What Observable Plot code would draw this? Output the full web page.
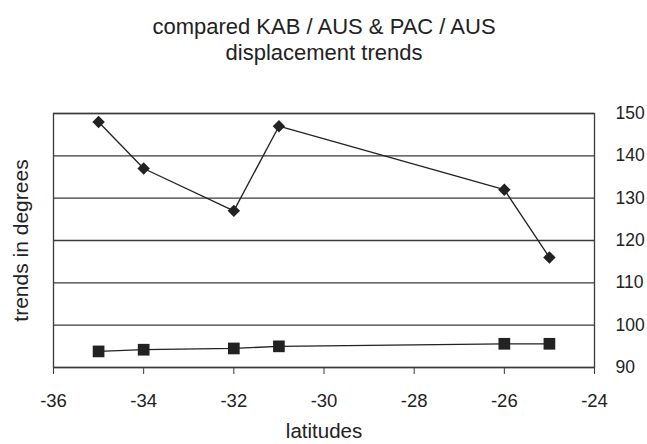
<!DOCTYPE html>
<html>
<head>
<meta charset="utf-8">
<script src="https://cdn.jsdelivr.net/npm/d3@7"></script>
<script src="https://cdn.jsdelivr.net/npm/@observablehq/plot@0.6"></script>
<style>
  html, body { margin: 0; padding: 0; background: #fff; }
  #chart svg { display: block; }
</style>
</head>
<body>
<div id="chart"></div>
<script>
// Data
const latitudes = [-35, -34, -32, -31, -26, -25];
const trendDiamond = [148, 137, 127, 147, 132, 116];
const trendSquare = [93.8, 94.2, 94.5, 95.0, 95.6, 95.6];
const xTicks = [-36, -34, -32, -30, -28, -26, -24];
const yTicks = [90, 100, 110, 120, 130, 140, 150];
const titleLines = ["compared KAB / AUS & PAC / AUS", "displacement trends"];
const xLabel = "latitudes";
const yLabel = "trends in degrees";

const seriesA = latitudes.map((lat, i) => ({lat, value: trendDiamond[i]}));
const seriesB = latitudes.map((lat, i) => ({lat, value: trendSquare[i]}));

const ink = "#222";
const gridInk = "#3a3a3a";
const fam = "'Liberation Sans', Arial, sans-serif";

const chart = Plot.plot({
  width: 647,
  height: 444,
  marginTop: 113,
  marginBottom: 77,
  marginLeft: 53,
  marginRight: 53,
  style: {fontFamily: fam, fontSize: "18px", color: ink, background: "#fff"},
  x: {domain: [-36, -24]},
  y: {domain: [90, 150]},
  marks: [
    Plot.gridY(yTicks, {stroke: gridInk, strokeOpacity: 1, strokeWidth: 1.3}),
    Plot.frame({stroke: gridInk, strokeWidth: 1.3}),
    Plot.axisX(xTicks, {
      tickSize: 7, tickPadding: 19, stroke: gridInk,
      tickFormat: d => String(d), fontSize: 18.5, label: null
    }),
    Plot.axisY(yTicks, {
      anchor: "right", tickSize: 0, tickPadding: 21,
      tickFormat: d => String(d), fontSize: 17.5, label: null
    }),
    Plot.line(seriesA, {x: "lat", y: "value", stroke: ink, strokeWidth: 1.3}),
    Plot.line(seriesB, {x: "lat", y: "value", stroke: ink, strokeWidth: 1.3}),
    Plot.dot(seriesA, {x: "lat", y: "value", symbol: "diamond2", r: 5.6, fill: ink, stroke: "none"}),
    Plot.dot(seriesB, {x: "lat", y: "value", symbol: "square", r: 6.6, fill: ink, stroke: "none"}),
    // title lines
    Plot.text([titleLines[0]], {frameAnchor: "top", dy: -80, text: d => d, fontSize: 22, fill: ink, lineAnchor: "bottom"}),
    Plot.text([titleLines[1]], {frameAnchor: "top", dy: -54, text: d => d, fontSize: 22, fill: ink, lineAnchor: "bottom"}),
    // axis titles
    Plot.text([xLabel], {frameAnchor: "bottom", dy: 70, text: d => d, fontSize: 20.5, fill: ink, lineAnchor: "bottom"}),
    Plot.text([yLabel], {frameAnchor: "left", dx: -32, rotate: -90, textAnchor: "middle", text: d => d, fontSize: 21, fill: ink})
  ]
});

document.getElementById("chart").appendChild(chart);
</script>
</body>
</html>
